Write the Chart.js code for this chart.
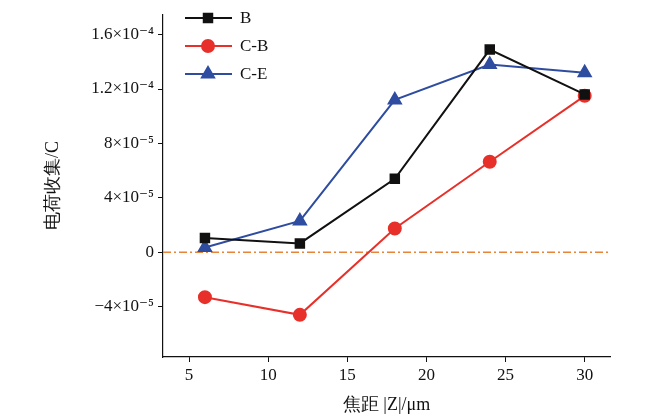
<!DOCTYPE html>
<html><head><meta charset="utf-8">
<script src="https://cdn.jsdelivr.net/npm/chart.js@4"></script>
<style>html,body{margin:0;padding:0;background:#fff}#w{width:650px;height:420px}</style>
</head><body><div id="w"><canvas id="c"></canvas></div>
<script>
const xValues=[6,12,18,24,30];
const seriesB=[1.05e-5,0.65e-5,5.4e-5,1.49e-4,1.16e-4];
const seriesCB=[-3.3e-5,-4.6e-5,1.75e-5,6.65e-5,1.15e-4];
const seriesCE=[0.35e-5,2.3e-5,1.12e-4,1.38e-4,1.32e-4];
const labels=['B','C-B','C-E'];
const xTicks=[5,10,15,20,25,30];
const yTicks=[-4e-5,0,4e-5,8e-5,1.2e-4,1.6e-4];
const yTickLabels={'-0.00004':'\u22124\u00d710\u207b\u2075','0':'0','0.00004':'4\u00d710\u207b\u2075','0.00008':'8\u00d710\u207b\u2075','0.00012':'1.2\u00d710\u207b\u2074','0.00016':'1.6\u00d710\u207b\u2074'};
const F='"Liberation Serif","DejaVu Serif",serif';
const colors=['#111111','#e8302a','#2f4da0'];
const shapes=['rect','circle','triangle'];
const pts=a=>a.map((v,i)=>({x:xValues[i],y:v}));
const ds=[seriesB,seriesCB,seriesCE].map((d,i)=>({label:labels[i],data:pts(d),borderColor:colors[i],backgroundColor:colors[i],pointStyle:shapes[i],pointRadius:i==2?7:6,borderWidth:2,tension:0}));
const zeroLine={id:'zero',beforeDatasetsDraw(ch){const x=ch.scales.x,y=ch.scales.y,c=ch.ctx;const yy=y.getPixelForValue(0);c.save();c.strokeStyle='#e8843a';c.lineWidth=1.5;c.setLineDash([8,3,2,3]);c.beginPath();c.moveTo(x.left,yy);c.lineTo(x.right,yy);c.stroke();c.restore();}};
const legend={id:'lg',afterDraw(ch){const c=ch.ctx;c.save();ch.data.datasets.forEach((d,i)=>{const y=18+i*28;c.strokeStyle=d.borderColor;c.fillStyle=d.borderColor;c.lineWidth=2;c.beginPath();c.moveTo(185,y);c.lineTo(232,y);c.stroke();Chart.helpers.drawPoint(c,{pointStyle:d.pointStyle,radius:d.pointRadius,borderWidth:1},208,y);c.fillStyle='#111';c.font='17px '+F;c.textBaseline='middle';c.fillText(d.label,240,y+1);});c.restore();}};
new Chart(document.getElementById('c'),{type:'line',data:{datasets:ds},plugins:[zeroLine,legend],
options:{responsive:true,maintainAspectRatio:false,animation:false,layout:{padding:{top:0,right:40,left:38,bottom:0}},
plugins:{legend:{display:false},tooltip:{enabled:false}},
scales:{
x:{type:'linear',min:3.35,max:31.6,afterBuildTicks:s=>{s.ticks=xTicks.map(v=>({value:v}))},afterFit:s=>{s.height=63},
grid:{drawOnChartArea:false,tickLength:5,color:'#111'},border:{color:'#111',width:1.2},
ticks:{color:'#111',font:{family:F,size:17}},title:{display:true,text:'焦距 |Z|/μm',color:'#111',font:{family:F,size:18},padding:{top:2}}},
y:{min:-7.7e-5,max:1.75e-4,afterBuildTicks:s=>{s.ticks=yTicks.map(v=>({value:v}))},afterFit:s=>{s.width=125},
grid:{drawOnChartArea:false,tickLength:5,color:'#111'},border:{color:'#111',width:1.2},
ticks:{color:'#111',font:{family:F,size:17},padding:4,callback:v=>yTickLabels[String(+v.toFixed(6))]??''},
title:{display:true,text:'电荷收集/C',color:'#111',font:{family:F,size:18}}}}}});
</script></body></html>
